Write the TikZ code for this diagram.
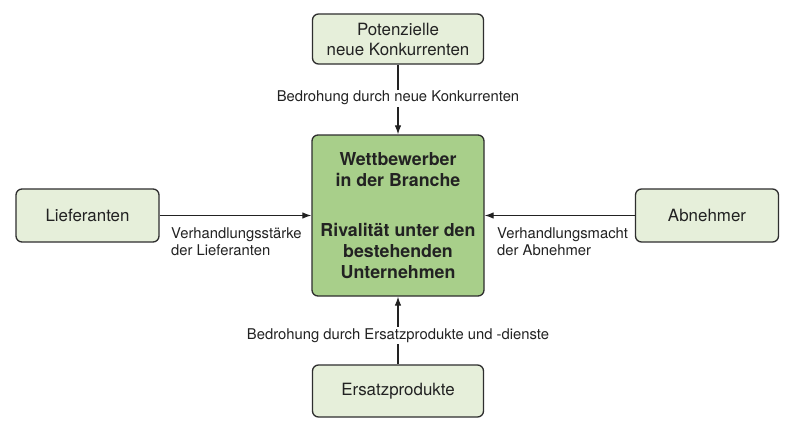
\documentclass[tikz,border=0pt]{standalone}
\usepackage{fontspec}
\setmainfont{TeX Gyre Heros}
\usetikzlibrary{arrows.meta}
\definecolor{boxfill}{HTML}{E6EFDA}
\definecolor{corefill}{HTML}{A8CF8A}
\definecolor{edge}{HTML}{2E2E2E}
\definecolor{ink}{HTML}{222222}
\tikzset{
  force/.style={draw=edge, line width=1.3pt, rounded corners=6pt, fill=boxfill,
    inner sep=0pt, align=center, text=ink,
    font=\fontsize{16.9}{20}\selectfont},
  core/.style={draw=edge, line width=1.3pt, rounded corners=6pt, fill=corefill,
    inner sep=0pt, align=center, text=ink,
    font=\fontsize{17.8}{21}\selectfont\bfseries},
  conn/.style={draw=ink, line width=1.1pt, -{Latex[length=9pt,width=6.5pt]}},
  lbl/.style={text=ink, inner sep=1.5pt, font=\fontsize{14.8}{17}\selectfont},
}
\begin{document}
\begin{tikzpicture}[x=1pt,y=-1pt]
\useasboundingbox (0,0) rectangle (800,439);
\fill[white] (0,0) rectangle (800,439);
\node[force, minimum width=171pt, minimum height=50pt] (pot) at (398,39) {Potenzielle\\neue Konkurrenten};
\node[core, minimum width=172pt, minimum height=161pt] (wett) at (398,215.5) {Wettbewerber\\in der Branche\\[29pt]Rivalität unter den\\bestehenden\\Unternehmen};
\node[force, minimum width=143pt, minimum height=53pt] (lief) at (87.5,215.5) {Lieferanten};
\node[force, minimum width=143pt, minimum height=53pt] (abn) at (707,215.5) {Abnehmer};
\node[force, minimum width=171pt, minimum height=52pt] (ers) at (398,391) {Ersatzprodukte};

\draw[conn] (pot.south) -- node[lbl, fill=white, pos=0.48] (lneu) {Bedrohung durch neue Konkurrenten} (wett.north);
\draw[conn] (ers.north) -- node[lbl, fill=white, pos=0.43] (lers) {Bedrohung durch Ersatzprodukte und -dienste} (wett.south);
\draw[conn] (lief.east) -- (wett.west);
\draw[conn] (abn.west) -- (wett.east);
\node[lbl, inner sep=0pt, anchor=north west, align=left] (llief) at (171,228) {Verhandlungsstärke\\der Lieferanten};
\node[lbl, inner sep=0pt, anchor=north west, align=left] (labn) at (497,228) {Verhandlungsmacht\\der Abnehmer};
\end{tikzpicture}
\end{document}
